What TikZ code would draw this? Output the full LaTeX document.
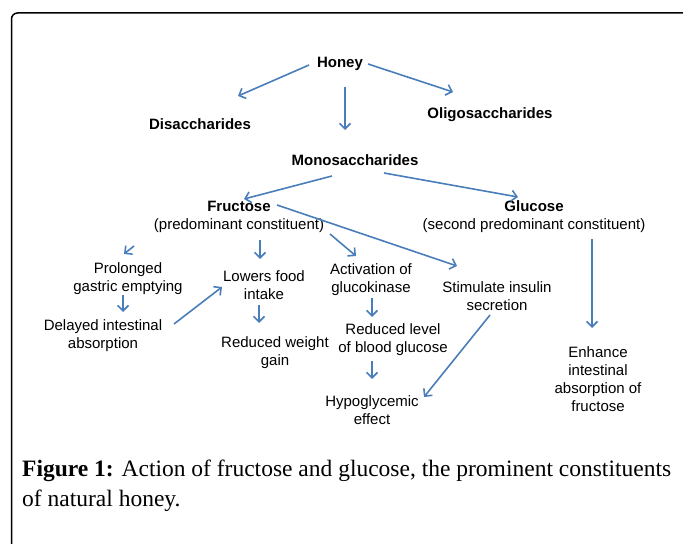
\documentclass[tikz,border=0pt]{standalone}
\usepackage{fontspec}
\setmainfont{Liberation Serif}
\setsansfont{Liberation Sans}
\usetikzlibrary{arrows.meta}
\definecolor{arrowblue}{RGB}{74,126,187}

\begin{document}
\begin{tikzpicture}[x=1bp,y=-1bp]
	\tikzstyle{every node}=[font=\sffamily\fontsize{15bp}{18bp}\selectfont,align=center,inner sep=0pt]
	\tikzstyle{arr}=[draw=arrowblue,line width=1.6bp,-{Straight Barb[length=5.5bp,width=11bp]}]
	\tikzstyle{caption}=[font=\rmfamily\fontsize{23.5bp}{24bp}\selectfont,anchor=base west]
	\useasboundingbox (0,0) rectangle (683,544);
	\draw[line width=1.5bp,rounded corners=6bp] (11.5,546) -- (11.5,13) -- (685,13);
	\node (honey) at (340,64) {\textbf{Honey}};
	\node (disacch) at (200,124) {\textbf{Disaccharides}};
	\node (oligo) at (490,115) {\textbf{Oligosaccharides}};
	\node (mono) at (355,160) {\textbf{Monosaccharides}};
	\node (fructose) at (239,217) {\textbf{Fructose}\\(predominant constituent)};
	\node (glucose) at (534,217) {\textbf{Glucose}\\(second predominant constituent)};
	\node (prolonged) at (128,279) {Prolonged\\gastric emptying};
	\node (delayed) at (103,336) {Delayed intestinal\\absorption};
	\node (lowers) at (264,285) {Lowers food\\intake};
	\node (weight) at (275,353) {Reduced weight\\gain};
	\node (activation) at (371,280) {Activation of\\glucokinase};
	\node (level) at (393,340) {Reduced level\\of blood glucose};
	\node (insulin) at (497,296) {Stimulate insulin\\secretion};
	\node (hypo) at (372,410) {Hypoglycemic\\effect};
	\node (enhance) at (598,379) {Enhance\\intestinal\\absorption of\\fructose};
	\draw[arr] ([shift={(-31,1)}]honey.center) -- ([shift={(38,-28)}]disacch.center);
	\draw[arr] ([shift={(28,0)}]honey.center) -- ([shift={(-37,-23)}]oligo.center);
	\draw[arr] ([shift={(5,23)}]honey.center) -- ([shift={(-10,-30)}]mono.center);
	\draw[arr] ([shift={(-23,16)}]mono.center) -- ([shift={(5,-18)}]fructose.center);
	\draw[arr] ([shift={(29,13)}]mono.center) -- ([shift={(-16,-20)}]glucose.center);
	\draw[arr] ([shift={(38,-12)}]fructose.center) -- ([shift={(-40,-30)}]insulin.center);
	\draw[arr] ([shift={(-105,29)}]fructose.center) -- ([shift={(-4,-25)}]prolonged.center);
	\draw[arr] ([shift={(21,23)}]fructose.center) -- ([shift={(-4,-26)}]lowers.center);
	\draw[arr] ([shift={(91,17)}]fructose.center) -- ([shift={(-15,-24)}]activation.center);
	\draw[arr] ([shift={(-5,16)}]prolonged.center) -- ([shift={(20,-24)}]delayed.center);
	\draw[arr] ([shift={(71,-12)}]delayed.center) -- ([shift={(-42,2)}]lowers.center);
	\draw[arr] ([shift={(-5,20)}]lowers.center) -- ([shift={(-16,-30)}]weight.center);
	\draw[arr] ([shift={(1,18)}]activation.center) -- ([shift={(-21,-23)}]level.center);
	\draw[arr] ([shift={(-21,21)}]level.center) -- ([shift={(0,-31)}]hypo.center);
	\draw[arr] ([shift={(-7,19)}]insulin.center) -- ([shift={(52,-13)}]hypo.center);
	\draw[arr] ([shift={(58,22)}]glucose.center) -- ([shift={(-6,-51)}]enhance.center);
	\node[caption] (cap1) at (22,476) {\textbf{Figure 1:} Action of fructose and glucose, the prominent constituents};
	\node[caption] (cap2) at (22,506) {of natural honey.};
\end{tikzpicture}
\end{document}
